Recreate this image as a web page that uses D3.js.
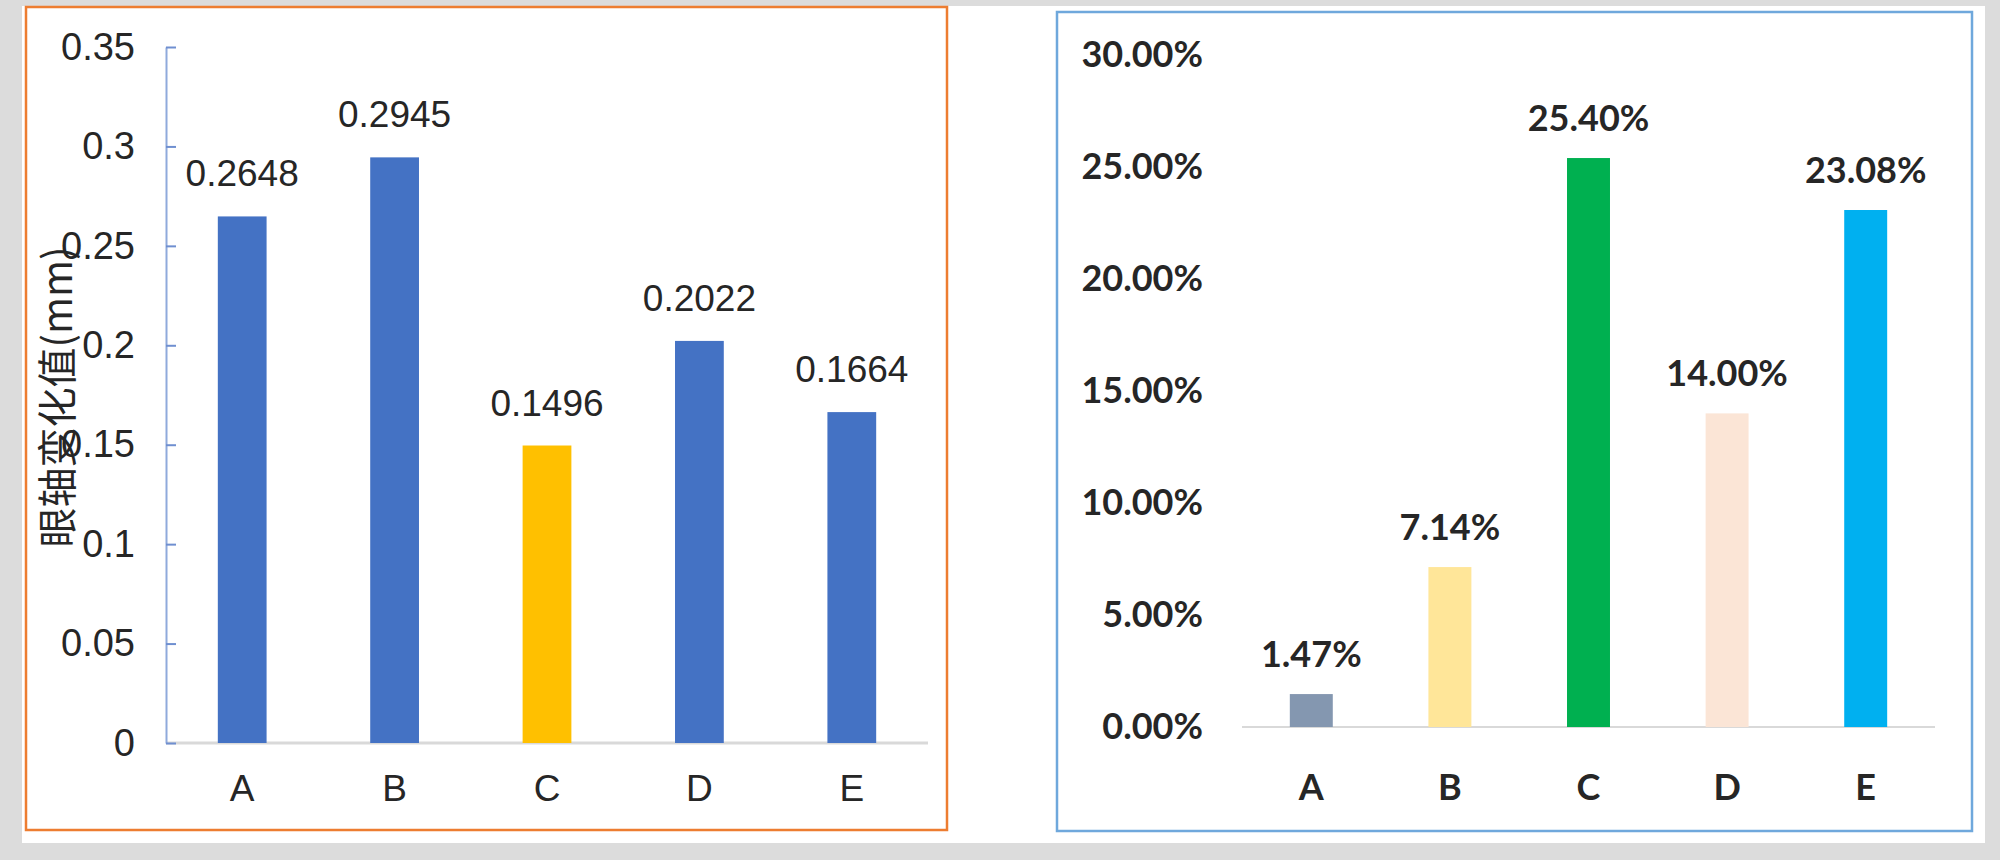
<!DOCTYPE html>
<html>
<head>
<meta charset="utf-8">
<script src="https://cdn.jsdelivr.net/npm/d3@7"></script>
<style>
  html, body { margin: 0; padding: 0; background: #dcdcdc; }
  svg { display: block; }
</style>
</head>
<body>
<svg id="chart" width="2000" height="860"></svg>
<script>
// ---- data ----
const categories = ["A", "B", "C", "D", "E"];
const leftValues = [0.2648, 0.2945, 0.1496, 0.2022, 0.1664];
const leftLabels = ["0.2648", "0.2945", "0.1496", "0.2022", "0.1664"];
const leftColors = ["#4472C4", "#4472C4", "#FFC000", "#4472C4", "#4472C4"];
const leftTicks = [0, 0.05, 0.1, 0.15, 0.2, 0.25, 0.3, 0.35];
const leftTickLabels = ["0", "0.05", "0.1", "0.15", "0.2", "0.25", "0.3", "0.35"];
const leftTitle = "眼轴变化值(mm)";

const rightValues = [0.0147, 0.0714, 0.2540, 0.1400, 0.2308];
const rightLabels = ["1.47%", "7.14%", "25.40%", "14.00%", "23.08%"];
const rightColors = ["#8497B0", "#FFE699", "#00B050", "#FBE5D6", "#00B0F0"];
const rightTicks = [0, 0.05, 0.10, 0.15, 0.20, 0.25, 0.30];
const rightTickLabels = ["0.00%", "5.00%", "10.00%", "15.00%", "20.00%", "25.00%", "30.00%"];

const svg = d3.select("#chart");

// background
svg.append("rect").attr("x", 0).attr("y", 0).attr("width", 2000).attr("height", 860).attr("fill", "#dcdcdc");
svg.append("rect").attr("x", 22).attr("y", 6).attr("width", 1963).attr("height", 837).attr("fill", "#ffffff");

// ================= LEFT PANEL =================
const leftFont = "'Liberation Sans', Arial, sans-serif";
svg.append("rect").attr("x", 26).attr("y", 7).attr("width", 921).attr("height", 823)
  .attr("fill", "none").attr("stroke", "#ED7D31").attr("stroke-width", 2.5);

const yL = d3.scaleLinear().domain([0, 0.35]).range([743, 47]);
const xL = d3.scaleBand().domain(categories).range([166, 928]).paddingInner(0.68).paddingOuter(0.34);

// x baseline
svg.append("line").attr("x1", xL.range()[0]).attr("x2", xL.range()[1])
  .attr("y1", yL(0)).attr("y2", yL(0)).attr("stroke", "#d9d9d9").attr("stroke-width", 3);

// y axis
const yAxisL = svg.append("g").attr("transform", `translate(${xL.range()[0]},0)`)
  .call(d3.axisLeft(yL).tickValues(leftTicks)
    .tickFormat((d, i) => leftTickLabels[i])
    .tickSizeInner(-10).tickSizeOuter(0).tickPadding(31));
yAxisL.select(".domain").attr("stroke", "#8FAADC").attr("stroke-width", 2);
yAxisL.selectAll(".tick line").attr("stroke", "#6F8FD0").attr("stroke-width", 2);
yAxisL.selectAll("text").attr("font-family", leftFont).attr("font-size", 38).attr("fill", "#262626");

// bars
svg.append("g").selectAll("rect").data(leftValues).join("rect")
  .attr("x", (d, i) => xL(categories[i]))
  .attr("width", xL.bandwidth())
  .attr("y", d => yL(d))
  .attr("height", d => yL(0) - yL(d))
  .attr("fill", (d, i) => leftColors[i]);

// value labels
svg.append("g").selectAll("text").data(leftValues).join("text")
  .attr("x", (d, i) => xL(categories[i]) + xL.bandwidth() / 2)
  .attr("y", d => yL(d) - 30)
  .attr("text-anchor", "middle")
  .attr("font-family", leftFont).attr("font-size", 37).attr("fill", "#262626")
  .text((d, i) => leftLabels[i]);

// x axis labels
const xAxisL = svg.append("g").attr("transform", `translate(0,${yL(0)})`)
  .call(d3.axisBottom(xL).tickSize(0).tickPadding(32));
xAxisL.select(".domain").remove();
xAxisL.selectAll("text").attr("font-family", leftFont).attr("font-size", 37).attr("fill", "#262626");

// y title
svg.append("text")
  .attr("transform", "translate(72,397) rotate(-90)")
  .attr("text-anchor", "middle")
  .attr("font-family", "'Noto Sans CJK SC', sans-serif")
  .attr("font-size", 40).attr("fill", "#262626")
  .text(leftTitle);

// ================= RIGHT PANEL =================
const rightFont = "Lato, 'Open Sans', sans-serif";
svg.append("rect").attr("x", 1057).attr("y", 12).attr("width", 915).attr("height", 819)
  .attr("fill", "none").attr("stroke", "#6FA8DC").attr("stroke-width", 2.5);

const yR = d3.scaleLinear().domain([0, 0.30]).range([727, 55]);
const xR = d3.scaleBand().domain(categories).range([1242, 1935]).paddingInner(0.69).paddingOuter(0.345);

svg.append("line").attr("x1", xR.range()[0]).attr("x2", xR.range()[1])
  .attr("y1", yR(0)).attr("y2", yR(0)).attr("stroke", "#d9d9d9").attr("stroke-width", 2);

const yAxisR = svg.append("g").attr("transform", `translate(${xR.range()[0]},0)`)
  .call(d3.axisLeft(yR).tickValues(rightTicks)
    .tickFormat((d, i) => rightTickLabels[i])
    .tickSize(0).tickPadding(39));
yAxisR.select(".domain").remove();
yAxisR.selectAll("text").attr("font-family", rightFont).attr("font-size", 36)
  .attr("font-weight", "bold").attr("fill", "#262626");

svg.append("g").selectAll("rect").data(rightValues).join("rect")
  .attr("x", (d, i) => xR(categories[i]))
  .attr("width", xR.bandwidth())
  .attr("y", d => yR(d))
  .attr("height", d => yR(0) - yR(d))
  .attr("fill", (d, i) => rightColors[i]);

svg.append("g").selectAll("text").data(rightValues).join("text")
  .attr("x", (d, i) => xR(categories[i]) + xR.bandwidth() / 2)
  .attr("y", d => yR(d) - 27)
  .attr("text-anchor", "middle")
  .attr("font-family", rightFont).attr("font-size", 36).attr("font-weight", "bold").attr("fill", "#262626")
  .text((d, i) => rightLabels[i]);

const xAxisR = svg.append("g").attr("transform", `translate(0,${yR(0)})`)
  .call(d3.axisBottom(xR).tickSize(0).tickPadding(47));
xAxisR.select(".domain").remove();
xAxisR.selectAll("text").attr("font-family", rightFont).attr("font-size", 36)
  .attr("font-weight", "bold").attr("fill", "#262626");
</script>
</body>
</html>
